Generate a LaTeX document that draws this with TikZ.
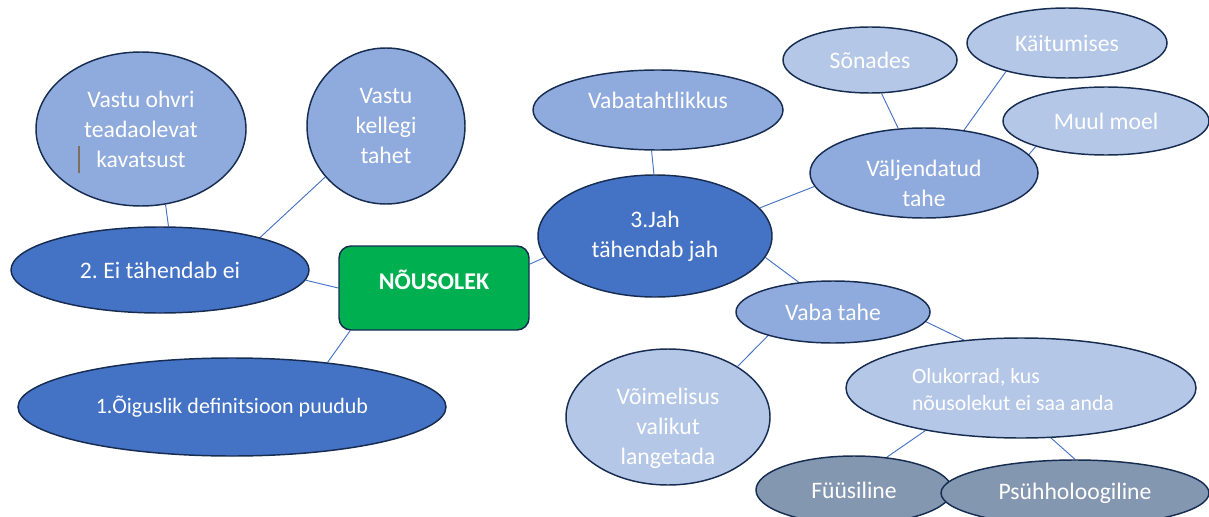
\documentclass[tikz,border=0pt]{standalone}
\usepackage{fontspec}
\setmainfont{Carlito}
\frenchspacing
\usetikzlibrary{shapes.geometric,backgrounds}
\definecolor{dblue}{HTML}{4472C4}
\definecolor{mblue}{HTML}{8FAADC}
\definecolor{lblue}{HTML}{B4C7E7}
\definecolor{gblue}{HTML}{8497B0}
\definecolor{navy}{HTML}{172C51}
\definecolor{okgreen}{HTML}{00B050}
\definecolor{cursorc}{HTML}{7F6F5F}
\tikzset{
  ell/.style={ellipse, draw=navy, line width=1.1pt, inner sep=0pt, text=white,
    font=\fontsize{17.75}{22.5}\selectfont, align=center},
  txt/.style={inner sep=0pt, text=white, font=\fontsize{17.75}{22.5}\selectfont, align=center},
  conn/.style={draw=dblue, line width=0.7pt},
}
\begin{document}
\begin{tikzpicture}[x=0.75pt,y=-0.75pt]
\useasboundingbox (0,0) rectangle (1209,517);
\clip (0,0) rectangle (1209,517);
% left branch
\node[ell, fill=mblue, minimum width=157.5pt, minimum height=115.5pt] (ohvri) at (141,129) {Vastu ohvri\\teadaolevat\\kavatsust};
\node[ell, fill=mblue, minimum width=118.5pt, minimum height=117pt] (kellegi) at (386,126) {Vastu\\kellegi\\tahet};
\node[ell, fill=dblue, minimum width=223.5pt, minimum height=64.5pt] (ei) at (160,270) {2.\ Ei tähendab ei};
\node[ell, fill=dblue, minimum width=321pt, minimum height=73.5pt, font=\fontsize{16.5}{20}\selectfont] (oig) at (232,407) {1.Õiguslik definitsioon puudub};
% centre
\node[draw=navy, line width=1.1pt, fill=okgreen, rounded corners=9pt, minimum width=142.5pt, minimum height=63pt, inner sep=0pt] (nous) at (434,288) {};
\node[txt, font=\fontsize{18}{22.5}\selectfont\bfseries] (nousT) at ([yshift=6pt]nous.center) {NÕUSOLEK};
% right branch
\node[ell, fill=mblue, minimum width=187.5pt, minimum height=60pt] (vabat) at (658,110) {};
\node[txt] (vabatT) at ([yshift=7.5pt]vabat.center) {Vabatahtlikkus};
\node[ell, fill=dblue, minimum width=175.5pt, minimum height=91.5pt] (jah) at (655,236) {3.Jah\\tähendab jah};
\node[ell, fill=lblue, minimum width=130.5pt, minimum height=49.5pt] (sonad) at (870,60) {Sõnades};
\node[ell, fill=lblue, minimum width=150pt, minimum height=52.5pt] (kait) at (1067,43) {Käitumises};
\node[ell, fill=lblue, minimum width=154.5pt, minimum height=51pt] (muul) at (1106,121) {Muul moel};
\node[ell, fill=mblue, minimum width=171pt, minimum height=67.5pt] (velj) at (924,173) {};
\node[txt] (veljT) at ([yshift=-7.5pt]velj.center) {Väljendatud\\tahe};
\node[ell, fill=mblue, minimum width=145.5pt, minimum height=46.5pt] (vaba) at (833,312) {Vaba tahe};
\node[ell, fill=lblue, minimum width=262.5pt, minimum height=75pt] (oluk) at (1021,388) {};
\node[txt, align=left, font=\fontsize{16.3}{20.25}\selectfont] (olukT) at ([xshift=-6pt,yshift=-1.5pt]oluk.center) {Olukorrad, kus\\nõusolekut ei saa anda};
\node[ell, fill=lblue, minimum width=153pt, minimum height=102pt] (voim) at (668,417) {};
\node[txt] (voimT) at ([yshift=-8.25pt]voim.center) {Võimelisus\\valikut\\langetada};
\node[ell, fill=gblue, minimum width=147pt, minimum height=51pt] (fuus) at (854,490) {Füüsiline};
\node[ell, fill=gblue, minimum width=201pt, minimum height=49.5pt] (psuh) at (1075,493) {Psühholoogiline};
% cursor mark
\coordinate (cur1) at (79,146);
\coordinate (cur2) at (79,173);
\draw[cursorc, line width=1pt] (cur1) -- (cur2);
% connectors
\begin{scope}[on background layer]
\draw[conn] (ohvri.-72.5) -- (ei.79);
\draw[conn] (kellegi.220) -- (ei.18.6);
\draw[conn] (ei.-4.6) -- (nous.west);
\draw[conn] (nous.207) -- (oig.25.3);
\draw[conn] (nous.14) -- (jah.191);
\draw[conn] (vabat.261) -- (jah.91);
\draw[conn] (jah.15) -- (velj.187.6);
\draw[conn] (jah.-11) -- (vaba.139);
\draw[conn] (sonad.-71.6) -- (velj.120);
\draw[conn] (kait.205.8) -- (velj.47);
\draw[conn] (muul.200.6) -- (velj.10);
\draw[conn] (vaba.200.5) -- (voim.36.6);
\draw[conn] (vaba.-6.5) -- (oluk.140.9);
\draw[conn] (oluk.204) -- (fuus.45);
\draw[conn] (oluk.-59) -- (psuh.90);
\end{scope}
\end{tikzpicture}
\end{document}
